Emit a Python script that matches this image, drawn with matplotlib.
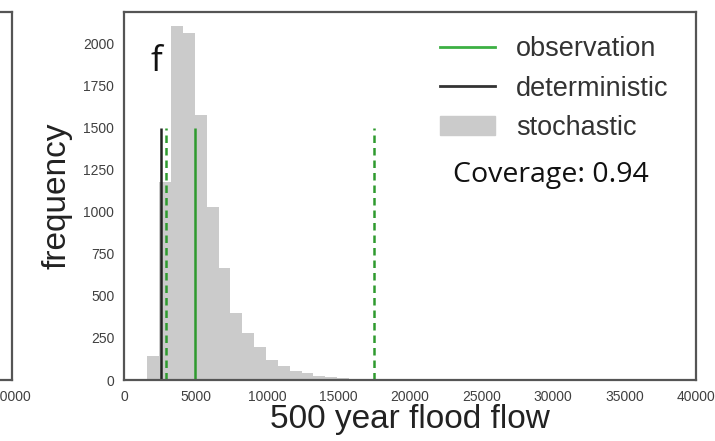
import numpy as np
import matplotlib
matplotlib.use('Agg')
from matplotlib import pyplot as plt
from matplotlib.lines import Line2D
from matplotlib.patches import Patch

# histogram of stochastic 500 year flood flows (bin edges + counts)
bin_edges = [1630, 2460, 3290, 4120, 4950, 5780, 6610, 7440, 8270, 9100, 9930,
             10760, 11590, 12420, 13250, 14080, 14910, 15740, 16570, 17400]
counts = [143, 1180, 2107, 2063, 1577, 1028, 665, 397, 278, 195,
          119, 83, 55, 40, 24, 17, 10, 6, 3]

deterministic = 2570
observation = 5000
obs_bounds = [2950, 17500]
line_top = 1500
coverage = 0.94

plt.rcParams['font.family'] = ['Liberation Sans', 'DejaVu Sans']

fig = plt.figure(figsize=(7.15, 4.41), dpi=100)

# neighbouring panel, cut off at the left edge
ax0 = fig.add_axes([-0.3, 0.1383, 0.3173, 0.8345])
ax0.set_xlim(0, 40000)
ax0.set_xticks([40000])
ax0.set_xticklabels(['40000'])
ax0.set_yticks([])

ax = fig.add_axes([0.1734, 0.1383, 0.8, 0.8345])

ax.hist(bin_edges[:-1], bins=bin_edges, weights=counts, color='#cbcbcb',
        label='stochastic')
ax.vlines(deterministic, 0, line_top, color='#222222', lw=1.8)
ax.vlines(observation, 0, line_top, color='#2e9a2e', lw=1.8)
ax.vlines(obs_bounds, 0, line_top, color='#2e9a2e', lw=1.8, linestyles=(0, (3, 2)))

ax.set_xlim(0, 40000)
ax.set_ylim(0, 2190)
ax.set_xticks(np.arange(0, 40001, 5000))
ax.set_yticks(np.arange(0, 2001, 250))

for a in (ax, ax0):
    for s in a.spines.values():
        s.set_color('#555555')
        s.set_linewidth(1.6)
    a.tick_params(length=0, labelsize=10, labelcolor='#404040', pad=7)

ax.set_xlabel('500 year flood flow', fontsize=24, color='#222222', labelpad=0)
ax.set_ylabel('frequency', fontsize=24, color='#222222', labelpad=8)

handles = [Line2D([], [], color='#3cb043', lw=2),
           Line2D([], [], color='#333333', lw=2),
           Patch(color='#cbcbcb')]
ax.legend(handles, ['observation', 'deterministic', 'stochastic'],
          loc='upper right', bbox_to_anchor=(0.995, 1.0), frameon=False,
          fontsize=19.5, labelcolor='#333333',
          handlelength=2.0, handletextpad=0.8, labelspacing=0.5)

ax.text(0.575, 0.537, 'Coverage: %.2f' % coverage, transform=ax.transAxes,
        fontsize=20.5, family='Open Sans', color='#111111')
ax.text(0.046, 0.84, 'f', transform=ax.transAxes, fontsize=25,
        family='Open Sans', color='#111111')

fig.savefig('out.png', dpi=100)
